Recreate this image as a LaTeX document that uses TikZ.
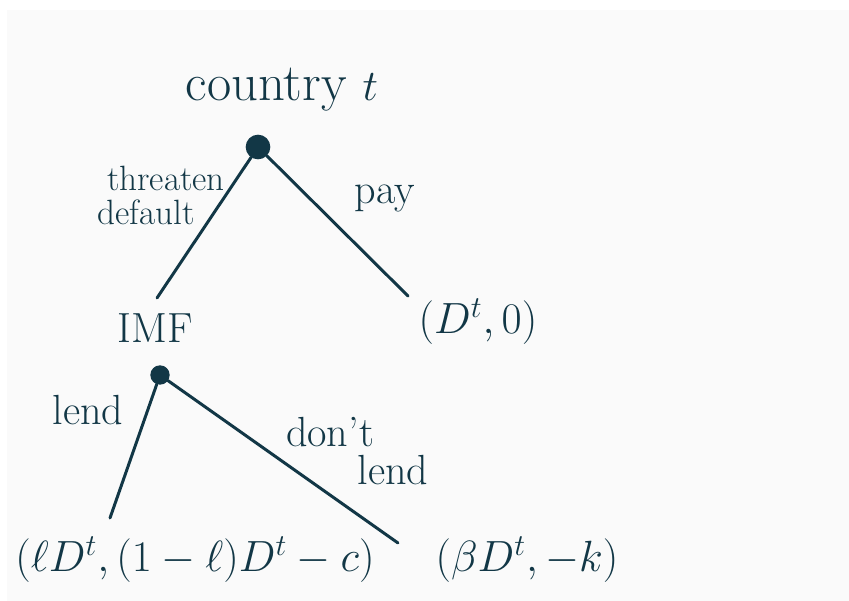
\documentclass[tikz,border=0pt]{standalone}
\usepackage{amsmath}
\definecolor{ink}{RGB}{18,55,70}
\definecolor{paper}{RGB}{250,250,250}
\begin{document}
\begin{tikzpicture}[x=0.02cm,y=-0.02cm,
    every node/.style={text=ink},
    huge/.style={font=\fontsize{30}{34}\selectfont},
    big/.style={font=\fontsize{24}{28}\selectfont},
    small/.style={font=\fontsize{20}{22}\selectfont},
    edge/.style={draw=ink,line width=1.7pt,line cap=round},
    dot/.style={circle,fill=ink,draw=ink,line width=1pt,inner sep=0pt}]
  \useasboundingbox (0,0) rectangle (849,601);
  \fill[paper] (7,10) rectangle (849,601);
  % country t moves first
  \node[huge] (country) at (282,90) {country $t$};
  \node[dot,minimum size=13pt] (root) at (258,147) {};
  \coordinate (lt) at (157,298);
  \coordinate (rt) at (408,296);
  \draw[edge] (root) -- (lt);
  \draw[edge] (root) -- (rt);
  \node[small] (threat) at (166,178) {threaten};
  \node[small] (default) at (146,212) {default};
  \node[big] (pay) at (385,198) {pay};
  \node[big] (imf) at (155,328) {IMF};
  \node[big] (paid) at (478,322) {$(D^t,0)$};
  % then the IMF
  \node[dot,minimum size=10pt] (imfdot) at (160,375) {};
  \coordinate (lb) at (110,518);
  \coordinate (rb) at (398,543);
  \draw[edge] (imfdot) -- (lb);
  \draw[edge] (imfdot) -- (rb);
  \node[big] (lend) at (88,410) {lend};
  \node[big] (dont) at (330,432) {don't};
  \node[big] (nolend) at (393,470) {lend};
  \node[big] (lent) at (195,560) {$(\ell D^t,(1-\ell)D^t-c)$};
  \node[big] (notlent) at (527,560) {$(\beta D^t,-k)$};
\end{tikzpicture}
\end{document}
